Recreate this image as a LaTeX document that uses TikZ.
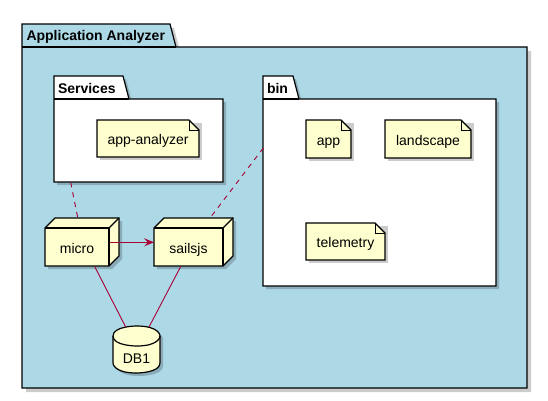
\documentclass[tikz,border=0pt]{standalone}
\usepackage{fontspec}
\setmainfont{Liberation Sans}
\usetikzlibrary{arrows.meta,calc}
\definecolor{pkgblue}{HTML}{ADD8E6}
\definecolor{nodefill}{HTML}{FEFECE}
\definecolor{linkred}{HTML}{A80036}
\tikzset{
  shapeline/.style={draw=black, line width=1.2pt, line join=miter},
  thinline/.style={draw=black, line width=0.9pt},
  shadowc/.style={fill=black, opacity=0.2, draw=none},
  pkgtitle/.style={inner sep=0pt, anchor=base west, font=\fontsize{14}{16}\selectfont\bfseries},
  lbl/.style={inner sep=0pt, anchor=base, font=\fontsize{14}{16}\selectfont},
  link/.style={draw=linkred, line width=0.9pt},
  deplink/.style={link, dash pattern=on 5pt off 5pt},
  arrowlink/.style={link, -{Stealth[length=10pt, width=8pt, inset=4pt]}},
}
% note: name, x0, y0, x1, y1, text
\newcommand\notebox[6]{%
  \fill[shadowc] ({#2+3},{#3+3}) rectangle ({#4+3},{#5+3});
  \draw[shapeline, fill=nodefill] (#2,#3) -- ({#4-10},#3) -- (#4,{#3+10}) -- (#4,#5) -- (#2,#5) -- cycle;
  \draw[thinline] ({#4-10},#3) -- ({#4-10},{#3+10}) -- (#4,{#3+10});
  \node[lbl] (#1) at ({(#2+#4)/2},{(#3+#5)/2+6.3}) {#6};
}
% 3D node: name, x0, y0, x1, y1 (front face), text
\newcommand\cubebox[6]{%
  \fill[shadowc] ({#2+3},{#3+3}) -- ({#2+13},{#3-7}) -- ({#4+13},{#3-7}) -- ({#4+13},{#5-7}) -- ({#4+3},{#5+3}) -- ({#2+3},{#5+3}) -- cycle;
  \draw[shapeline, fill=nodefill] (#2,#3) -- ({#2+10},{#3-10}) -- ({#4+10},{#3-10}) -- ({#4+10},{#5-10}) -- (#4,#5) -- (#2,#5) -- cycle;
  \draw[shapeline] (#2,#3) -- (#4,#3) -- (#4,#5);
  \draw[shapeline] (#4,#3) -- ({#4+10},{#3-10});
  \node[lbl] (#1) at ({(#2+#4)/2},{(#3+#5)/2+6.3}) {#6};
}
\begin{document}
\begin{tikzpicture}[x=1pt, y=-1pt]
\useasboundingbox (0,0) rectangle (548,400);
\fill[white] (0,0) rectangle (548,400);

% Outer package
\fill[shadowc] (26,28) -- (174,28) -- (180,51) -- (531,51) -- (531,392) -- (26,392) -- cycle;
\draw[shapeline, fill=pkgblue] (22,24) -- (170,24) -- (176,47) -- (527,47) -- (527,388) -- (22,388) -- cycle;
\draw[shapeline] (22,47) -- (176,47);
\node[pkgtitle] (aa) at (26.3,40.7) {Application Analyzer};

% Services package
\fill[shadowc] (57,79) -- (126,79) -- (132,102) -- (226,102) -- (226,185) -- (57,185) -- cycle;
\draw[shapeline, fill=white] (54,76) -- (123,76) -- (129,99) -- (223,99) -- (223,182) -- (54,182) -- cycle;
\draw[shapeline] (54,99) -- (129,99);
\node[pkgtitle] (services) at (57.8,93.3) {Services};

% bin package
\fill[shadowc] (266,79) -- (296,79) -- (302,102) -- (499,102) -- (499,289) -- (266,289) -- cycle;
\draw[shapeline, fill=white] (263,76) -- (293,76) -- (299,99) -- (496,99) -- (496,286) -- (263,286) -- cycle;
\draw[shapeline] (263,99) -- (299,99);
\node[pkgtitle] (bin) at (266.8,93.3) {bin};

% Notes
\notebox{appanalyzer}{97}{120}{199}{157}{app-analyzer}
\notebox{app}{306}{120}{351}{158}{app}
\notebox{landscape}{385}{120}{471}{158}{landscape}
\notebox{telemetry}{306}{223}{385}{260}{telemetry}

% 3D nodes
\cubebox{micro}{45}{228}{109}{266}{micro}
\cubebox{sailsjs}{154}{228}{223}{266}{sailsjs}

% Database
\begin{scope}[xshift=3pt, yshift=-3pt]
\fill[shadowc] (113,336) .. controls (113,326) and (136.5,326) .. (136.5,326) .. controls (160,326) and (160,336) .. (160,336) -- (160,363) .. controls (160,373) and (136.5,373) .. (136.5,373) .. controls (113,373) and (113,363) .. (113,363) -- cycle;
\end{scope}
\draw[shapeline, fill=nodefill] (113,336) .. controls (113,326) and (136.5,326) .. (136.5,326) .. controls (160,326) and (160,336) .. (160,336) -- (160,363) .. controls (160,373) and (136.5,373) .. (136.5,373) .. controls (113,373) and (113,363) .. (113,363) -- cycle;
\draw[shapeline] (113,336) .. controls (113,346) and (136.5,346) .. (136.5,346) .. controls (160,346) and (160,336) .. (160,336);
\node[lbl] (db1) at (136.5,363.5) {DB1};

% Connector end points
\coordinate (svcEnd) at (70.7,182.5);
\coordinate (microTop) at (77.7,217.5);
\coordinate (binEnd) at (263.3,148);
\coordinate (sailsTop) at (210,218);
\coordinate (microR) at (109.5,242.3);
\coordinate (sailsL) at (154,242.3);
\coordinate (microB) at (94.7,266.5);
\coordinate (sailsB) at (180.7,266.5);
\coordinate (dbL) at (125.7,327);
\coordinate (dbR) at (149,327);

% Connectors
\draw[deplink] (svcEnd) -- (microTop);
\draw[deplink] (binEnd) -- (sailsTop);
\draw[arrowlink] (microR) -- (sailsL);
\draw[link] (microB) -- (dbL);
\draw[link] (sailsB) -- (dbR);
\end{tikzpicture}
\end{document}
